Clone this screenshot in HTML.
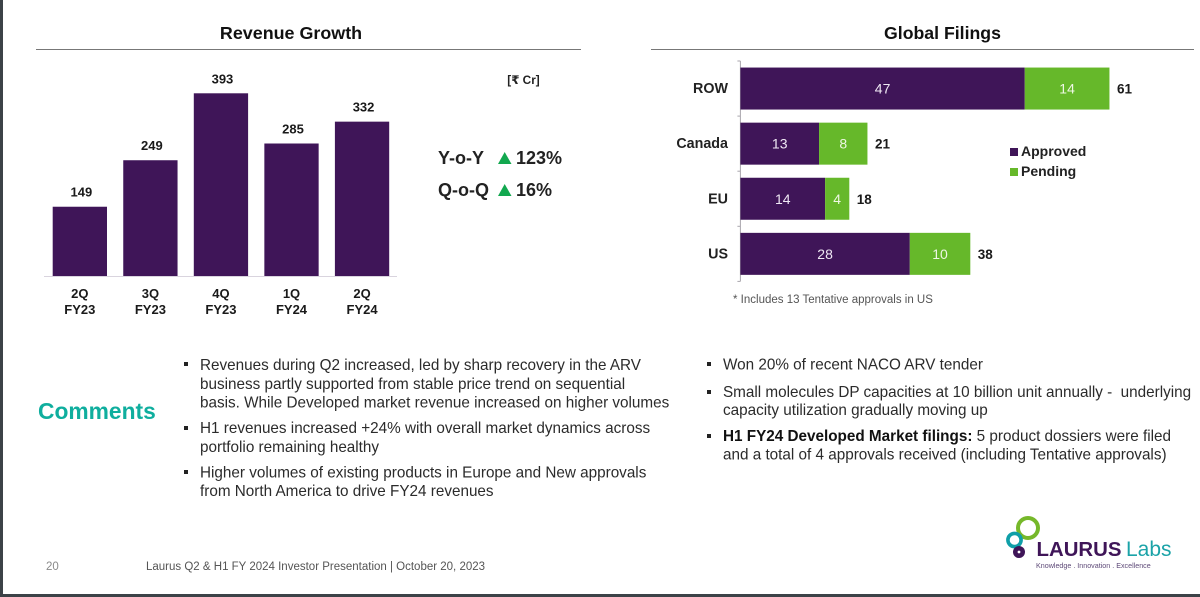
<!DOCTYPE html>
<html lang="en">
<head>
<meta charset="utf-8">
<title>Revenue Growth and Global Filings</title>
<style>
html,body{margin:0;padding:0;background:#fff;}
body{width:1200px;height:597px;overflow:hidden;}
svg{display:block;font-family:"Liberation Sans",sans-serif;}
.body-text{font-size:15.28px;fill:#2b2b2b;}
.bold-label{font-weight:700;fill:#111;}
</style>
</head>
<body>
<svg id="slide" width="1200" height="597" viewBox="0 0 1200 597" xmlns="http://www.w3.org/2000/svg">
  <rect width="1200" height="597" fill="#ffffff"/>
  <rect x="0" y="0" width="3" height="597" fill="#3c4247"/>
  <rect x="0" y="594" width="1200" height="3" fill="#3c4247"/>

  <text x="291" y="39" text-anchor="middle" font-size="17.9" font-weight="700" fill="#111">Revenue Growth</text>
  <line x1="36" y1="49.5" x2="581" y2="49.5" stroke="#777" stroke-width="1"/>
  <text x="942.5" y="39" text-anchor="middle" font-size="17.7" font-weight="700" fill="#111">Global Filings</text>
  <line x1="651" y1="49.5" x2="1194" y2="49.5" stroke="#777" stroke-width="1"/>

  <g id="revenue-chart"></g>
  <text x="523.5" y="84" text-anchor="middle" font-size="11.8" font-weight="700" fill="#222" font-family="'Liberation Sans','DejaVu Sans',sans-serif">[₹ Cr]</text>

  <g font-size="18" font-weight="700" fill="#222">
    <text x="438" y="164">Y-o-Y</text>
    <polygon points="504.7,152 511.5,164 498,164" fill="#12a84f"/>
    <text x="516" y="164">123%</text>
    <text x="438" y="196">Q-o-Q</text>
    <polygon points="504.7,184 511.5,196 498,196" fill="#12a84f"/>
    <text x="516" y="196">16%</text>
  </g>

  <g id="filings-chart"></g>

  <g>
    <rect x="1010" y="148" width="8" height="8" fill="#3f1558"/>
    <text x="1021" y="156" font-size="14" font-weight="700" fill="#222">Approved</text>
    <rect x="1010" y="168" width="8" height="8" fill="#66b82a"/>
    <text x="1021" y="176" font-size="14" font-weight="700" fill="#222">Pending</text>
  </g>
  <text x="733" y="303" font-size="11.5" fill="#555">* Includes 13 Tentative approvals in US</text>

  <text x="38" y="419" font-size="22.8" font-weight="700" fill="#0fae9e">Comments</text>

  <g class="body-text">
    <rect x="184" y="362" width="4" height="4" fill="#222"/>
    <text x="200" y="370">Revenues during Q2 increased, led by sharp recovery in the ARV</text>
    <text x="200" y="389">business partly supported from stable price trend on sequential</text>
    <text x="200" y="407.5">basis. While Developed market revenue increased on higher volumes</text>
    <rect x="184" y="426" width="4" height="4" fill="#222"/>
    <text x="200" y="433">H1 revenues increased +24% with overall market dynamics across</text>
    <text x="200" y="452">portfolio remaining healthy</text>
    <rect x="184" y="470" width="4" height="4" fill="#222"/>
    <text x="200" y="477.5">Higher volumes of existing products in Europe and New approvals</text>
    <text x="200" y="496">from North America to drive FY24 revenues</text>
  </g>

  <g class="body-text">
    <rect x="707" y="362" width="4" height="4" fill="#222"/>
    <text x="723" y="369.5">Won 20% of recent NACO ARV tender</text>
    <rect x="707" y="390" width="4" height="4" fill="#222"/>
    <text x="723" y="397" style="white-space:pre">Small molecules DP capacities at 10 billion unit annually -  underlying</text>
    <text x="723" y="415">capacity utilization gradually moving up</text>
    <rect x="707" y="434" width="4" height="4" fill="#222"/>
    <text x="723" y="441"><tspan font-weight="700" fill="#111">H1 FY24 Developed Market filings:</tspan> 5 product dossiers were filed</text>
    <text x="723" y="459.5">and a total of 4 approvals received (including Tentative approvals)</text>
  </g>

  <text x="46" y="570" font-size="11.5" fill="#8a8a8a">20</text>
  <text x="146" y="570" font-size="11.5" fill="#555">Laurus Q2 &amp; H1 FY 2024 Investor Presentation | October 20, 2023</text>

  <g>
    <circle cx="1028" cy="528" r="10" fill="none" stroke="#76b82a" stroke-width="4"/>
    <circle cx="1014.5" cy="540" r="6.6" fill="none" stroke="#0f9fa8" stroke-width="3.6"/>
    <circle cx="1019" cy="552" r="6" fill="#3f1558"/>
    <circle cx="1019" cy="552" r="1.4" fill="#fff"/>
    <text x="1036.5" y="556" font-size="20" font-weight="700" fill="#3f1558" textLength="85" lengthAdjust="spacingAndGlyphs">LAURUS</text>
    <text x="1126" y="556" font-size="21" fill="#1ba3a8">Labs</text>
    <text x="1036" y="568" font-size="7.15" fill="#5e4a78">Knowledge . Innovation . Excellence</text>
  </g>
</svg>
<script>
var revenueCategories = [["2Q","FY23"],["3Q","FY23"],["4Q","FY23"],["1Q","FY24"],["2Q","FY24"]];
var revenueValues = [149, 249, 393, 285, 332];
var filingCategories = ["ROW","Canada","EU","US"];
var approvedValues = [47, 13, 14, 28];
var pendingValues = [14, 8, 4, 10];
var filingTotals = [61, 21, 18, 38];

var NS = "http://www.w3.org/2000/svg";
function mk(parent, tag, attrs, txt) {
  var el = document.createElementNS(NS, tag);
  for (var k in attrs) el.setAttribute(k, attrs[k]);
  if (txt !== undefined) el.textContent = txt;
  parent.appendChild(el);
  return el;
}

/* Revenue chart axis functions */
var revG = document.getElementById("revenue-chart");
var revBase = 276, revPerUnit = 0.4649, revStart = 52.7, revStep = 70.55, revW = 54.3;
function revY(v) { return revBase - v * revPerUnit; }
function revX(i) { return revStart + i * revStep; }

var revAxis = mk(revG, "line", {x1:44, x2:397, y1:revBase + 0.5, y2:revBase + 0.5, stroke:"#d9d4de", "stroke-width":1});



revenueValues.forEach(function (v, i) {
  var bar = mk(revG, "rect", {x:revX(i), y:revY(v), width:revW, height:revBase - revY(v), fill:"#3f1558"});
  
  
  var lab = mk(revG, "text", {x:revX(i) + revW / 2 + 1.5, y:revY(v) - 10, "text-anchor":"middle", "font-size":13, "font-weight":700, fill:"#1a1a1a"}, String(v));
  
  
  var c1 = mk(revG, "text", {x:revX(i) + revW / 2, y:298, "text-anchor":"middle", "font-size":13, "font-weight":700, fill:"#1a1a1a"}, revenueCategories[i][0]);
  
  
  var c2 = mk(revG, "text", {x:revX(i) + revW / 2, y:314, "text-anchor":"middle", "font-size":13, "font-weight":700, fill:"#1a1a1a"}, revenueCategories[i][1]);
  
  
});

/* Filings chart axis functions */
var filG = document.getElementById("filings-chart");
var filX0 = 740.4, filPerUnit = 6.05, filTop = 61, filBand = 55.1, filH = 42;
function filX(v) { return filX0 + v * filPerUnit; }
function filY(i) { return filTop + filBand * i + (filBand - filH) / 2; }

var filAxis = mk(filG, "line", {x1:filX0, x2:filX0, y1:filTop, y2:filTop + filBand * filingCategories.length, stroke:"#a9a6ad", "stroke-width":1});



for (var t = 0; t <= filingCategories.length; t++) {
  var tick = mk(filG, "line", {x1:filX0 - 3, x2:filX0, y1:filTop + filBand * t, y2:filTop + filBand * t, stroke:"#a9a6ad", "stroke-width":1});
  
  
}

filingCategories.forEach(function (name, i) {
  var y = filY(i), mid = y + filH / 2 + 5;
  var a = approvedValues[i], p = pendingValues[i];
  var r1 = mk(filG, "rect", {x:filX(0), y:y, width:filX(a) - filX(0), height:filH, fill:"#3f1558"});
  
  
  var r2 = mk(filG, "rect", {x:filX(a), y:y, width:filX(a + p) - filX(a), height:filH, fill:"#66b82a"});
  
  
  var t1 = mk(filG, "text", {x:(filX(0) + filX(a)) / 2, y:mid, "text-anchor":"middle", "font-size":14, fill:"#efe8f4"}, String(a));
  
  
  var t2 = mk(filG, "text", {x:(filX(a) + filX(a + p)) / 2, y:mid, "text-anchor":"middle", "font-size":14, fill:"#eef7e4"}, String(p));
  
  
  var t3 = mk(filG, "text", {x:filX(a + p) + 7.5, y:mid, "font-size":13.5, "font-weight":700, fill:"#1a1a1a"}, String(filingTotals[i]));
  
  
  var c = mk(filG, "text", {x:728, y:mid - 0.5, "text-anchor":"end", "font-size":14.3, "font-weight":700, fill:"#222"}, name);
  
  
});
</script>
</body>
</html>
